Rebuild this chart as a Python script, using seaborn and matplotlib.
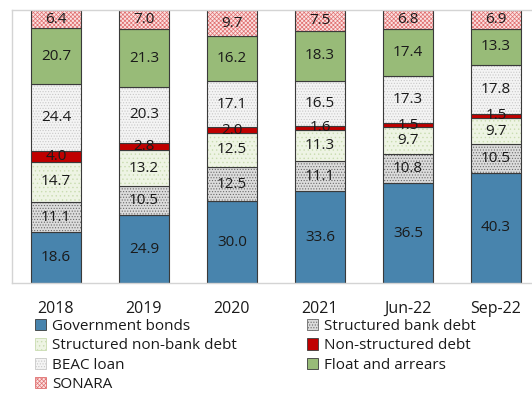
import numpy as np
import pandas as pd
import matplotlib
matplotlib.use("Agg")
import matplotlib.pyplot as plt
import seaborn as sns
from matplotlib.patches import Patch

categories = ["2018", "2019", "2020", "2021", "Jun-22", "Sep-22"]
series_names = ["Government bonds", "Structured bank debt", "Structured non-bank debt",
                "Non-structured debt", "BEAC loan", "Float and arrears", "SONARA"]
gov_bonds = [18.6, 24.9, 30.0, 33.6, 36.5, 40.3]
struct_bank = [11.1, 10.5, 12.5, 11.1, 10.8, 10.5]
struct_nonbank = [14.7, 13.2, 12.5, 11.3, 9.7, 9.7]
non_struct = [4.0, 2.8, 2.0, 1.6, 1.5, 1.5]
beac_loan = [24.4, 20.3, 17.1, 16.5, 17.3, 17.8]
float_arrears = [20.7, 21.3, 16.2, 18.3, 17.4, 13.3]
sonara = [6.4, 7.0, 9.7, 7.5, 6.8, 6.9]

values = [gov_bonds, struct_bank, struct_nonbank, non_struct, beac_loan, float_arrears, sonara]
faces = ["#4884ad", "#dcdcdc", "#eef4e4", "#c00000", "#f4f4f4", "#98bb78", "#fbe2e2"]
hatches = [None, "......", "....", None, "......", None, "xxxxxxxx"]
hatch_cols = [None, "#6a6a6a", "#c9dcb0", None, "#c8c8c8", None, "#e07070"]

sns.set_theme(style="white")
plt.rcParams["font.family"] = ["Open Sans", "DejaVu Sans"]
plt.rcParams["hatch.linewidth"] = 0.5

fig = plt.figure(figsize=(5.32, 3.93), dpi=100)
ax = fig.add_axes([12 / 532, 110 / 393, 528 / 532, 273 / 393])

bottom = np.zeros(len(categories))
W = 0.57
for name, vals, fc, h, hc in zip(series_names, values, faces, hatches, hatch_cols):
    vals = np.array(vals)
    n0 = len(ax.patches)
    sns.barplot(x=categories, y=vals, bottom=bottom, color=fc, saturation=1,
                width=W, ax=ax, linewidth=0, edgecolor=hc if hc else fc)
    for p in ax.patches[n0:]:
        if h:
            p.set_hatch(h)
            p.set_edgecolor(hc)
            p.set_linewidth(0)
    # outline
    sns.barplot(x=categories, y=vals, bottom=bottom, fill=False, color="#3a3a3a",
                width=W, ax=ax, linewidth=0.8)
    for i, (v, b) in enumerate(zip(vals, bottom)):
        ax.text(i, b + v / 2, f"{v:.1f}", ha="center", va="center",
                fontsize=11, color="#1a1a1a")
    bottom = bottom + vals

ax.set_xlim(-0.5, 5.5)
ax.set_ylim(0, 100)
ax.set_yticks([])
ax.set_xlabel("")
ax.set_ylabel("")
ax.set_xticks(range(len(categories)))
ax.set_xticklabels(categories, fontsize=11.5, color="#1a1a1a")
ax.tick_params(axis="x", which="major", length=0, pad=13)
ax.set_xticks(np.arange(0.5, 5.5, 1.0), minor=True)
ax.tick_params(axis="x", which="minor", length=5, direction="in", color="#cfcfcf", width=0.8)
for s in ax.spines.values():
    s.set_color("#d4d4d4")
    s.set_linewidth(1.0)

handles = [Patch(facecolor=fc, edgecolor=(hc if hc else "#3a3a3a"), hatch=h, linewidth=0.6)
           for fc, h, hc in zip(faces, hatches, hatch_cols)]
order = [0, 2, 4, 6, 1, 3, 5]
leg = fig.legend([handles[i] for i in order], [series_names[i] for i in order],
                 loc="upper left", bbox_to_anchor=(35 / 532, 1 - 319 / 393), ncol=2,
                 frameon=False, fontsize=11, handlelength=0.75, handleheight=0.75,
                 handletextpad=0.35, labelspacing=0.28, columnspacing=4.6,
                 borderaxespad=0, borderpad=0)
for t in leg.get_texts():
    t.set_color("#1a1a1a")

fig.savefig("out.png", dpi=100)
